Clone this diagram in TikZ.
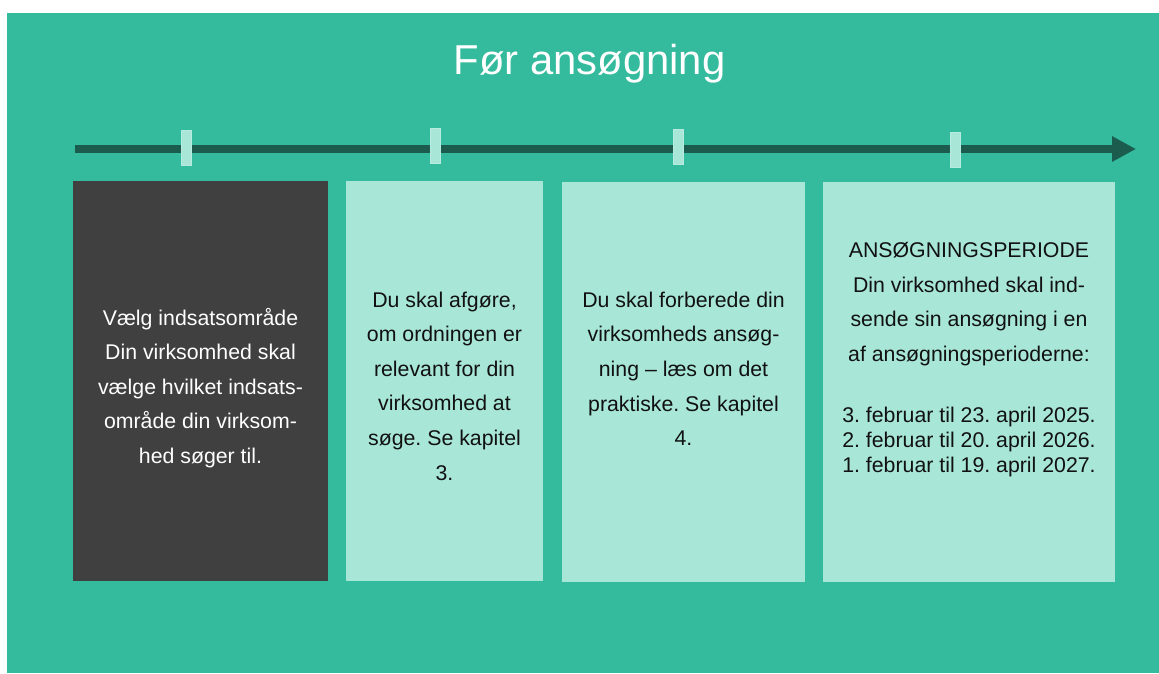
\documentclass[tikz,border=0pt]{standalone}
\usepackage{fontspec}
\setmainfont{Liberation Sans}
\usetikzlibrary{arrows.meta}
\frenchspacing
\definecolor{bggreen}{HTML}{34BA9C}
\definecolor{lightmint}{HTML}{A8E7D8}
\definecolor{darkline}{HTML}{1B5C4F}
\definecolor{darkbox}{HTML}{404040}
\definecolor{inktext}{HTML}{111111}
\begin{document}
\begin{tikzpicture}[x=1pt,y=-1pt,
  card/.style={draw=none, inner sep=0pt, outer sep=0pt},
  tickmark/.style={fill=lightmint, draw=lightmint!80!white, line width=0.6pt, inner sep=0pt, minimum width=10pt, minimum height=35pt},
  bodytext/.style={align=center, inner sep=0pt, anchor=base, font=\frenchspacing\fontsize{21.3}{34.6}\selectfont},
  timeline/.style={darkline, line width=8pt, -{Triangle[length=24pt,width=24pt]}}]
\useasboundingbox (0,0) rectangle (1159,673);
\fill[bggreen] (7,13) rectangle (1159,673);
% title
\node[anchor=base, inner sep=0pt, text=white, font=\fontsize{41.8}{48}\selectfont] (title) at (589.4,74.3) {Før ansøgning};
% timeline
\coordinate (tlstart) at (75,149);
\coordinate (tlend) at (1136,149);
\draw[timeline] (tlstart) -- (tlend);
\node[tickmark] (t1) at (186,148) {};
\node[tickmark] (t2) at (435,146) {};
\node[tickmark] (t3) at (678,146.3) {};
\node[tickmark] (t4) at (955,150) {};
% boxes
\node[card, fill=darkbox, minimum width=255pt, minimum height=399.7pt] (b1) at (200.5,380.85) {};
\node[card, fill=lightmint, minimum width=197pt, minimum height=399.7pt] (b2) at (444.5,380.85) {};
\node[card, fill=lightmint, minimum width=243pt, minimum height=399.7pt] (b3) at (683.5,381.85) {};
\node[card, fill=lightmint, minimum width=292pt, minimum height=399.7pt] (b4) at (969,381.85) {};
% texts
\node[bodytext, text=white] (b1text) at (200.5,463.5) {Vælg indsatsområde\\Din virksomhed skal\\vælge hvilket indsats-\\område din virksom-\\hed søger til.};
\node[bodytext, text=inktext] (b2text) at (444.5,480) {Du skal afgøre,\\om ordningen er\\relevant for din\\virksomhed at\\søge. Se kapitel\\3.};
\node[bodytext, text=inktext] (b3text) at (683.5,445.7) {Du skal forberede din\\virksomheds ansøg-\\ning – læs om det\\praktiske. Se kapitel\\4.};
\node[bodytext, text=inktext] (b4text) at (969,472.7) {ANSØGNINGSPERIODE\\Din virksomhed skal ind-\\sende sin ansøgning i en\\af ansøgningsperioderne:\\[26.5pt]3. februar til 23. april 2025.\\[-9.5pt]2. februar til 20. april 2026.\\[-9.5pt]1. februar til 19. april 2027.};
\end{tikzpicture}
\end{document}
